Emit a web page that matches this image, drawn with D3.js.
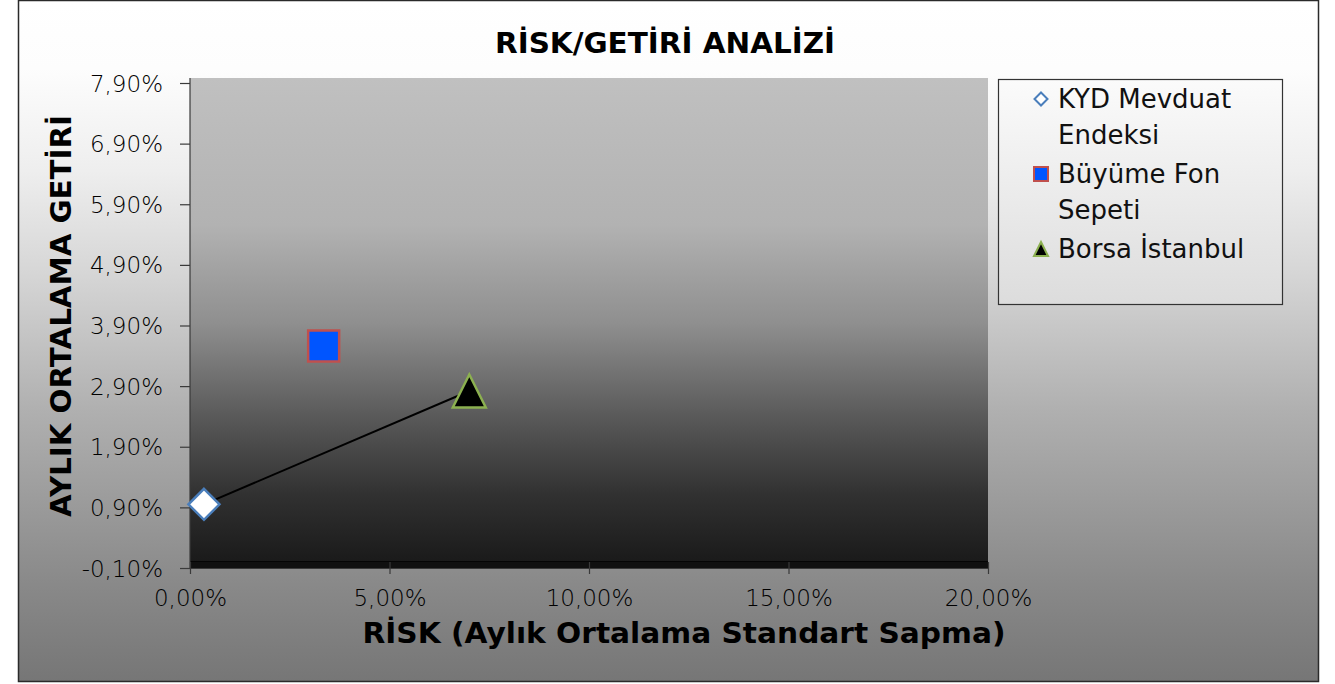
<!DOCTYPE html>
<html>
<head>
<meta charset="utf-8">
<script src="https://cdn.jsdelivr.net/npm/d3@7"></script>
<style>
  body { margin: 0; background: #fff; }
  svg { display: block; font-family: "DejaVu Sans", "Noto Sans", sans-serif; }
</style>
</head>
<body>
<div id="chart"></div>
<script>
// series data (values in %)
const seriesNames = ['KYD Mevduat Endeksi', 'Büyüme Fon Sepeti', 'Borsa İstanbul'];
const riskValues = [0.35, 3.35, 7.0];
const returnValues = [0.95, 3.56, 2.82];
const xTicks = [0, 5, 10, 15, 20];
const yTicks = [-0.1, 0.9, 1.9, 2.9, 3.9, 4.9, 5.9, 6.9, 7.9];
const legendLines = [['KYD Mevduat', 'Endeksi'], ['Büyüme Fon', 'Sepeti'], ['Borsa İstanbul']];

const W = 1335, H = 684;
const plot = { left: 190, right: 988, top: 83, bottom: 568 };

const svg = d3.select('#chart').append('svg')
  .attr('width', W)
  .attr('height', H);

const defs = svg.append('defs');

const outerGrad = defs.append('linearGradient')
  .attr('id', 'outerGrad').attr('x1', 0).attr('y1', 0).attr('x2', 0).attr('y2', 1);
[[0, '#ffffff'], [0.1, '#fdfdfd'], [0.25, '#eeeeee'], [0.4, '#d6d6d6'], [0.6, '#b0b0b0'], [0.85, '#8a8a8a'], [1, '#767676']]
  .forEach(s => outerGrad.append('stop').attr('offset', s[0]).attr('stop-color', s[1]));

const plotGrad = defs.append('linearGradient')
  .attr('id', 'plotGrad').attr('x1', 0).attr('y1', 0).attr('x2', 0).attr('y2', 1);
[[0, '#c0c0c0'], [0.3, '#b2b2b2'], [0.5, '#8f8f8f'], [0.7, '#575757'], [0.85, '#313131'], [1, '#181818']]
  .forEach(s => plotGrad.append('stop').attr('offset', s[0]).attr('stop-color', s[1]));

const legendGrad = defs.append('linearGradient')
  .attr('id', 'legendGrad').attr('x1', 0).attr('y1', 0).attr('x2', 0).attr('y2', 1);
[[0, '#fbfbfb'], [1, '#dcdcdc']]
  .forEach(s => legendGrad.append('stop').attr('offset', s[0]).attr('stop-color', s[1]));

// chart area
svg.append('rect')
  .attr('x', 18.5).attr('y', 0.5).attr('width', 1300).attr('height', 681)
  .attr('fill', 'url(#outerGrad)')
  .attr('stroke', '#2a2a2a').attr('stroke-width', 1.5);

const x = d3.scaleLinear().domain([0, 20]).range([plot.left, plot.right]);
const y = d3.scaleLinear().domain([-0.1, 7.9]).range([plot.bottom, plot.top]);

// plot area
svg.append('rect')
  .attr('x', plot.left).attr('y', plot.top - 5)
  .attr('width', plot.right - plot.left).attr('height', plot.bottom - plot.top + 5)
  .attr('fill', 'url(#plotGrad)');
svg.append('rect')
  .attr('x', plot.left).attr('y', plot.bottom - 7)
  .attr('width', plot.right - plot.left).attr('height', 7)
  .attr('fill', '#101010');
svg.append('line')
  .attr('x1', plot.left).attr('x2', plot.right)
  .attr('y1', plot.bottom - 6.5).attr('y2', plot.bottom - 6.5)
  .attr('stroke', '#050505').attr('stroke-width', 1);

const fmt = v => d3.format('.2f')(v).replace('.', ',').replace('\u2212', '-') + '%';

const xAxis = svg.append('g')
  .attr('transform', `translate(0,${plot.bottom})`)
  .call(d3.axisBottom(x).tickValues(xTicks).tickFormat(fmt).tickSize(6).tickSizeOuter(0).tickPadding(16));

const yAxis = svg.append('g')
  .attr('transform', `translate(${plot.left},0)`)
  .call(d3.axisLeft(y).tickValues(yTicks).tickFormat(fmt).tickSize(10).tickSizeOuter(0).tickPadding(17));

[xAxis, yAxis].forEach(a => {
  a.select('.domain').attr('stroke', '#3a3a3a').attr('stroke-width', 1.2);
  a.selectAll('.tick line').attr('stroke', '#3a3a3a').attr('stroke-width', 1.2);
  a.selectAll('.tick text')
    .attr('fill', '#000')
    .style('font-family', 'DejaVu Sans')
    .style('font-size', '23px')
    .style('font-weight', 300);
});
yAxis.select('.domain').attr('d', `M0,${plot.top - 5}V${plot.bottom}`);
xAxis.selectAll('.tick line').attr('y1', -6);
yAxis.selectAll('.tick text').attr('dy', '0.35em');

// titles
svg.append('text')
  .attr('x', 665).attr('y', 53)
  .attr('text-anchor', 'middle')
  .attr('textLength', 340).attr('lengthAdjust', 'spacingAndGlyphs')
  .style('font-size', '29px').style('font-weight', 700)
  .attr('fill', '#000')
  .text('RİSK/GETİRİ ANALİZİ');

svg.append('text')
  .attr('x', 684).attr('y', 643)
  .attr('text-anchor', 'middle')
  .attr('textLength', 643).attr('lengthAdjust', 'spacingAndGlyphs')
  .style('font-size', '29px').style('font-weight', 700)
  .attr('fill', '#000')
  .text('RİSK (Aylık Ortalama Standart Sapma)');

svg.append('text')
  .attr('transform', 'translate(71,316) rotate(-90)')
  .attr('text-anchor', 'middle')
  .attr('textLength', 402).attr('lengthAdjust', 'spacingAndGlyphs')
  .style('font-size', '29px').style('font-weight', 700)
  .attr('fill', '#000')
  .text('AYLIK ORTALAMA GETİRİ');

// connecting line KYD -> Borsa
svg.append('line')
  .attr('x1', x(riskValues[0])).attr('y1', y(returnValues[0]))
  .attr('x2', x(riskValues[2])).attr('y2', y(returnValues[2]))
  .attr('stroke', '#000').attr('stroke-width', 2);

// markers
const markerStyles = [
  { fill: '#ffffff', stroke: '#4a7ebb' },
  { fill: '#0055ff', stroke: '#c0504d' },
  { fill: '#000000', stroke: '#8cb050' }
];

function markerPath(i, size) {
  const h = size / 2;
  if (i === 0) return `M0,${-h}L${h},0L0,${h}L${-h},0Z`;
  if (i === 1) return `M${-h},${-h}H${h}V${h}H${-h}Z`;
  return `M0,${-h}L${h},${h}L${-h},${h}Z`;
}

const markerSizes = [31, 31, 33];

svg.append('g').selectAll('path')
  .data(seriesNames)
  .join('path')
  .attr('transform', (d, i) => `translate(${x(riskValues[i])},${y(returnValues[i])})`)
  .attr('d', (d, i) => markerPath(i, markerSizes[i]))
  .attr('fill', (d, i) => markerStyles[i].fill)
  .attr('stroke', (d, i) => markerStyles[i].stroke)
  .attr('stroke-width', 2.5)
  .attr('stroke-linejoin', 'miter');

// legend
const legend = svg.append('g');
legend.append('rect')
  .attr('x', 998.5).attr('y', 79.5).attr('width', 284).attr('height', 225)
  .attr('fill', 'url(#legendGrad)')
  .attr('stroke', '#333').attr('stroke-width', 1.2);

const legendRowY = [99, 174, 249];
const legendSizes = [13, 14, 14];
legendLines.forEach((lines, i) => {
  legend.append('path')
    .attr('transform', `translate(1041,${legendRowY[i]})`)
    .attr('d', markerPath(i, legendSizes[i]))
    .attr('fill', markerStyles[i].fill)
    .attr('stroke', markerStyles[i].stroke)
    .attr('stroke-width', 2);
  lines.forEach((t, j) => {
    legend.append('text')
      .attr('x', 1058).attr('y', legendRowY[i] + j * 36)
      .attr('dy', '0.35em')
      .style('font-size', '26px')
      .style('font-weight', 400)
      .attr('fill', '#111')
      .text(t);
  });
});
</script>
</body>
</html>
